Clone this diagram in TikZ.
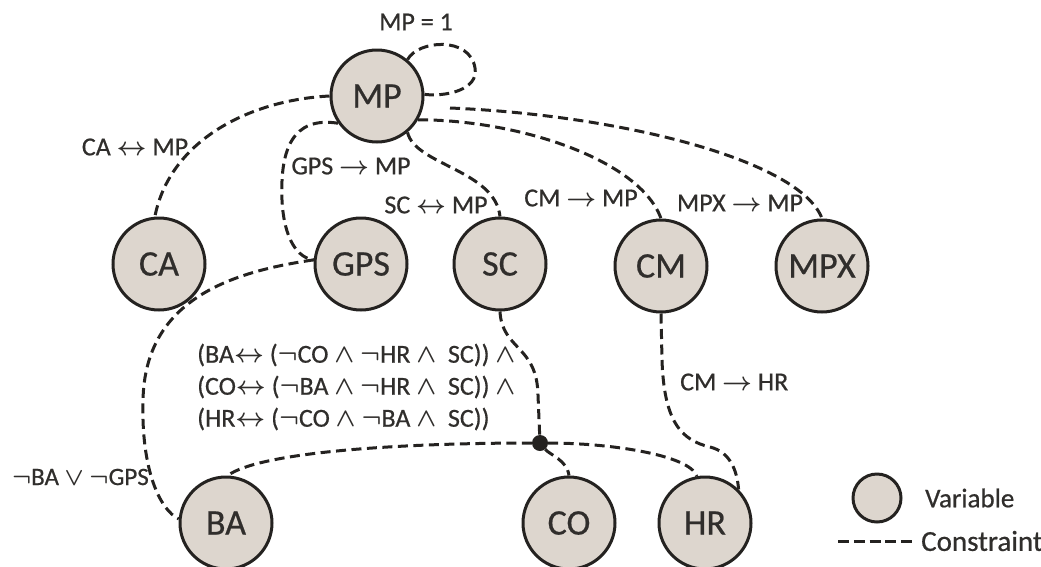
\RequirePackage{fix-cm}
\documentclass[tikz,border=0pt]{standalone}
\usepackage{fontspec}
\setmainfont{Carlito}[FakeBold=0.6]
\definecolor{varfill}{RGB}{221,214,206}
\definecolor{edgecol}{RGB}{36,34,32}
\definecolor{txtcol}{RGB}{48,46,44}
\begin{document}
\begin{tikzpicture}[x=1pt,y=-1pt,
  var/.style={circle,draw=edgecol,line width=3pt,fill=varfill,minimum size=92pt,
    inner sep=0pt,text=txtcol,font=\fontsize{36}{42}\selectfont},
  con/.style={draw=edgecol,line width=3pt,dash pattern=on 10pt off 5.5pt},
  lbl/.style={text=txtcol,font=\fontsize{26}{32}\selectfont\boldmath,inner sep=0pt},
  hub/.style={circle,fill=edgecol,minimum size=16pt,inner sep=0pt}]
\useasboundingbox (0,0) rectangle (1041,566);

% variables
\node[var] (MP)  at (377,96)  {MP};
\node[var] (CA)  at (159,264) {CA};
\node[var] (GPS) at (361,264) {GPS};
\node[var] (SC)  at (500,264) {SC};
\node[var] (CM)  at (661,266) {CM};
\node[var] (MPX) at (822,266) {MPX};
\node[var] (BA)  at (226,523) {BA};
\node[var] (CO)  at (569,523) {CO};
\node[var] (HR)  at (705,523) {HR};
\node[hub] (J) at (540,443) {};
\coordinate (mpxend) at (450,108);

% unary constraint on MP
\draw[con] (MP.50) .. controls (418,40) and (470,36) .. (475,68)
  .. controls (479,90) and (445,97) .. (MP.2);

% binary constraints with MP
\draw[con] (MP.180) .. controls (250,100) and (170,140) .. (CA.95);
\draw[con] (MP.215) .. controls (292,116) and (280,150) .. (282,200)
  .. controls (284,240) and (298,258) .. (GPS.175);
\draw[con] (MP.310) .. controls (415,165) and (495,170) .. (SC.90);
\draw[con] (MP.330) .. controls (520,120) and (640,160) .. (CM.90);
\draw[con] (mpxend) .. controls (620,115) and (800,160) .. (MPX.90);

% GPS and BA
\draw[con] (GPS.175) .. controls (230,272) and (145,300) .. (143,400)
  .. controls (141,470) and (160,510) .. (BA.175);

% CM and HR
\draw[con] (CM.270) -- (662,360) .. controls (664,420) and (680,440) .. (710,447)
  .. controls (730,452) and (737,470) .. (HR.45);

% ternary constraint through the hub
\draw[con] (SC.270) .. controls (502,350) and (537,345) .. (538,395) -- (J);
\draw[con] (J) .. controls (400,443) and (260,452) .. (BA.88);
\draw[con] (J) .. controls (550,455) and (567,460) .. (CO.90);
\draw[con] (J) .. controls (610,443) and (690,455) .. (HR.100);

% constraint labels
\node[lbl] (lmp)   at (416,22)  {MP = 1};
\node[lbl] (lca)   at (135,147) {CA $\leftrightarrow$ MP};
\node[lbl] (lgps)  at (351,166) {GPS $\rightarrow$ MP};
\node[lbl] (lsc)   at (436,205) {SC $\leftrightarrow$ MP};
\node[lbl] (lcm)   at (581,198) {CM $\rightarrow$ MP};
\node[lbl] (lmpx)  at (740,203) {MPX $\rightarrow$ MP};
\node[lbl,anchor=west] (lcmhr) at (680,382) {CM $\rightarrow$ HR};
\node[lbl,anchor=east,font=\fontsize{25}{32}\selectfont\boldmath] (lbag) at (149,477)
  {$\neg$BA $\vee$ $\neg$GPS};
\node[lbl,anchor=west,align=left] (lhub) at (197,387)
  {(BA$\leftrightarrow$ ($\neg$CO $\wedge$ $\neg$HR $\wedge$\ \ SC)) $\wedge$\\
   (CO$\leftrightarrow$ ($\neg$BA $\wedge$ $\neg$HR $\wedge$\ \ SC)) $\wedge$\\
   (HR$\leftrightarrow$ ($\neg$CO $\wedge$ $\neg$BA $\wedge$\ \ SC))};

% legend
\node[var,minimum size=48pt] (lgvar) at (877,498) {};
\node[lbl,anchor=west,font=\fontsize{27}{30}\selectfont] (lgvt) at (925,498) {Variable};
\coordinate (lgA) at (838,541);
\coordinate (lgB) at (912,541);
\draw[con,dash pattern=on 11pt off 4.75pt] (lgA) -- (lgB);
\node[lbl,anchor=west,font=\fontsize{29}{30}\selectfont] (lgct) at (921,541) {Constraint};
\end{tikzpicture}
\end{document}
